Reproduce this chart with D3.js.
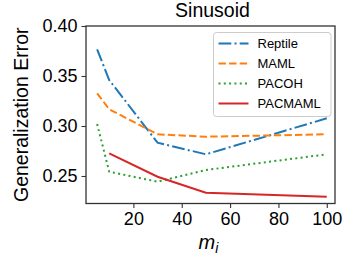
<!DOCTYPE html>
<html><head><meta charset="utf-8">
<script src="https://cdn.jsdelivr.net/npm/d3@7"></script>
<style>
html,body{margin:0;padding:0;background:#fff;}
svg{display:block;font-family:"Liberation Sans",Arial,sans-serif;}
</style></head>
<body><svg id="c" width="344" height="257"></svg>
<script>
const mValues = [5, 10, 30, 50, 100];
const reptile = [0.3767, 0.346, 0.2833, 0.2717, 0.3077];
const maml    = [0.3327, 0.3167, 0.2917, 0.2893, 0.2917];
const pacoh   = [0.302, 0.2543, 0.2443, 0.256, 0.2717];
const pacmaml = [null, 0.2727, 0.2493, 0.2333, 0.2293];
const seriesNames = ["Reptile", "MAML", "PACOH", "PACMAML"];
const seriesColors = ["#1f77b4", "#ff7f0e", "#2ca02c", "#d62728"];
const seriesDash = ["12.8,3.2,2,3.2", "7.4,3.2", "2,3.3", null];
const xTicks = [20, 40, 60, 80, 100];
const yTicks = [0.25, 0.30, 0.35, 0.40];

const svg = d3.select("#c");
const L = 86, R = 335, T = 26, B = 203.5;
const x = d3.scaleLinear().domain([0.4, 103.4]).range([L, R]);
const y = d3.scaleLinear().domain([0.2225, 0.40]).range([B, T]);

const seriesData = [reptile, maml, pacoh, pacmaml];
const line = d3.line().defined(d => d.v != null).x(d => x(d.m)).y(d => y(d.v));

seriesData.forEach((vals, i) => {
  const pts = mValues.map((m, j) => ({m, v: vals[j]}));
  const p = svg.append("path").datum(pts)
    .attr("d", line).attr("fill", "none")
    .attr("stroke", seriesColors[i]).attr("stroke-width", 2);
  if (seriesDash[i]) p.attr("stroke-dasharray", seriesDash[i]);
});

// axes
const axisColor = "#333";
const xAxis = svg.append("g").attr("transform", `translate(0,${B})`)
  .call(d3.axisBottom(x).tickValues(xTicks).tickSize(4.5).tickPadding(4).tickFormat(d3.format("d")));
const yAxis = svg.append("g").attr("transform", `translate(${L},0)`)
  .call(d3.axisLeft(y).tickValues(yTicks).tickSize(4.5).tickPadding(4).tickFormat(d3.format(".2f")));
[xAxis, yAxis].forEach(g => {
  g.select(".domain").remove();
  g.selectAll(".tick line").attr("stroke", axisColor).attr("stroke-width", 1.1);
  g.selectAll(".tick text").attr("fill", "#000").style("font-size", "18px")
   .style("font-family", "'Liberation Sans', Arial, sans-serif");
});
svg.append("rect").attr("x", L).attr("y", T).attr("width", R - L).attr("height", B - T)
  .attr("fill", "none").attr("stroke", axisColor).attr("stroke-width", 1.3);

// title and labels
svg.append("text").attr("x", (L + R) / 2 + 2).attr("y", 17).attr("text-anchor", "middle")
  .style("font-size", "19.5px").text("Sinusoid");
svg.append("text").attr("transform", `translate(28,${(T + B) / 2}) rotate(-90)`)
  .attr("text-anchor", "middle").style("font-size", "19.5px").text("Generalization Error");
const xl = svg.append("text").attr("x", (L + R) / 2 - 2).attr("y", 249).attr("text-anchor", "middle")
  .style("font-size", "20px").style("font-style", "italic");
xl.append("tspan").text("m");
xl.append("tspan").attr("dy", 4).style("font-size", "14px").text("i");

// legend
const lg = svg.append("g");
lg.append("rect").attr("x", 213.5).attr("y", 32.5).attr("width", 117.5).attr("height", 84)
  .attr("rx", 3).attr("fill", "#fff").attr("fill-opacity", 0.8)
  .attr("stroke", "#ccc").attr("stroke-width", 1);
seriesNames.forEach((n, i) => {
  const yy = 43.5 + i * 20;
  const l = lg.append("line").attr("x1", 218.5).attr("x2", 248.5).attr("y1", yy).attr("y2", yy)
    .attr("stroke", seriesColors[i]).attr("stroke-width", 2);
  if (seriesDash[i]) l.attr("stroke-dasharray", seriesDash[i]);
  lg.append("text").attr("x", 257.5).attr("y", yy + 4.6).style("font-size", "13px").text(n);
});
</script></body></html>
